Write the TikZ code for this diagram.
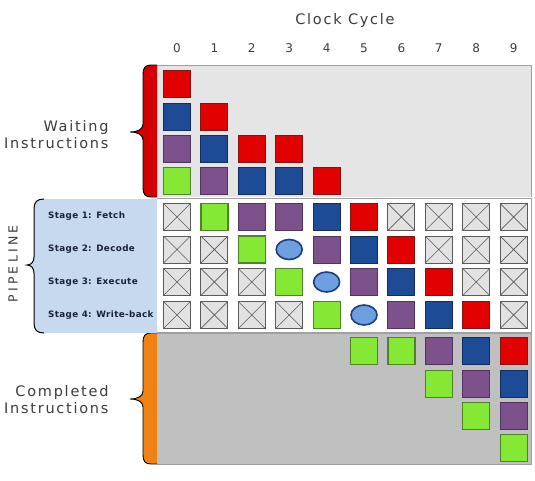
\documentclass[tikz,border=0pt]{standalone}
\usepackage{fontspec}
\setmainfont{DejaVu Sans}
\newfontfamily\lblfont[LetterSpace=12]{DejaVu Sans}
\newfontfamily\pipefont[LetterSpace=26]{DejaVu Sans}
\newfontfamily\stgfont[LetterSpace=4]{DejaVu Sans}
\usetikzlibrary{shapes.geometric}
\definecolor{cred}{RGB}{226,0,0}
\definecolor{credd}{RGB}{130,20,20}
\definecolor{cblue}{RGB}{30,75,150}
\definecolor{cblued}{RGB}{20,45,95}
\definecolor{cpurp}{RGB}{125,82,140}
\definecolor{cpurpd}{RGB}{80,52,92}
\definecolor{cgreen}{RGB}{132,232,52}
\definecolor{cgreend}{RGB}{80,130,40}
\definecolor{cxfill}{RGB}{226,226,226}
\definecolor{cxline}{RGB}{90,90,90}
\definecolor{cbub}{RGB}{110,160,225}
\definecolor{cbubd}{RGB}{30,60,130}
\definecolor{waitbg}{RGB}{229,229,229}
\definecolor{donebg}{RGB}{192,192,192}
\definecolor{pipebg}{RGB}{198,217,238}
\definecolor{braceorange}{RGB}{240,130,20}
\definecolor{bracered}{RGB}{212,0,0}
\definecolor{boxline}{RGB}{160,160,160}
\definecolor{txt}{RGB}{60,60,60}
\definecolor{stagetxt}{RGB}{25,35,60}
\tikzset{
  cell/.style={minimum size=27pt, inner sep=0pt, line width=1pt},
  cR/.style={cell, fill=cred, draw=credd},
  cB/.style={cell, fill=cblue, draw=cblued},
  cP/.style={cell, fill=cpurp, draw=cpurpd},
  cG/.style={cell, fill=cgreen, draw=cgreend, line width=1.2pt},
  cX/.style={cell, fill=cxfill, draw=cxline, line width=0.9pt,
    path picture={\draw[cxline, line width=0.6pt]
      (path picture bounding box.south west) -- (path picture bounding box.north east)
      (path picture bounding box.north west) -- (path picture bounding box.south east);}},
  cE/.style={ellipse, minimum width=26pt, minimum height=20pt, inner sep=0pt,
    fill=cbub, draw=cbubd, line width=1.6pt},
  lbl/.style={font=\lblfont\fontsize{14.5}{17}\selectfont, text=txt, align=right},
  stg/.style={font=\stgfont\bfseries\fontsize{8.8}{10}\selectfont, text=stagetxt, anchor=west, inner sep=0pt},
  num/.style={font=\fontsize{12}{14}\selectfont, text=txt},
  region/.style={draw=boxline, line width=0.8pt},
}
\begin{document}
\begin{tikzpicture}[x=1pt, y=-1pt]
\useasboundingbox (0,0) rectangle (535,480);
% regions
\fill[waitbg] (157,65) rectangle (531,197);
\draw[region] (157,65) -- (531,65) -- (531,197);
\fill[white] (157,198) rectangle (531,332);
\draw[region] (157,198) -- (531,198) -- (531,332) -- (157,332);
\fill[donebg] (157,333) rectangle (531,464);
\draw[region] (157,333) -- (531,333) -- (531,464) -- (157,464);
% waiting brace
\fill[bracered] (157,65) -- (151,65) .. controls (145,65) and (143,68) .. (143,74)
  -- (143,124) .. controls (143,129) and (138,132) .. (130,132)
  .. controls (138,132) and (143,135) .. (143,140)
  -- (143,188) .. controls (143,194) and (145,197) .. (151,197) -- (157,197) -- cycle;
\draw[black, line width=0.9pt] (157,65) -- (151,65) .. controls (145,65) and (143,68) .. (143,74)
  -- (143,124) .. controls (143,129) and (138,132) .. (130,132)
  .. controls (138,132) and (143,135) .. (143,140)
  -- (143,188) .. controls (143,194) and (145,197) .. (151,197) -- (157,197);
% completed brace
\fill[braceorange] (157,333) -- (151,333) .. controls (145,333) and (143,336) .. (143,342)
  -- (143,391) .. controls (143,396) and (138,399) .. (130,399)
  .. controls (138,399) and (143,402) .. (143,407)
  -- (143,455) .. controls (143,461) and (145,464) .. (151,464) -- (157,464) -- cycle;
\draw[black, line width=0.9pt] (157,333) -- (151,333) .. controls (145,333) and (143,336) .. (143,342)
  -- (143,391) .. controls (143,396) and (138,399) .. (130,399)
  .. controls (138,399) and (143,402) .. (143,407)
  -- (143,455) .. controls (143,461) and (145,464) .. (151,464) -- (157,464);
% pipeline label area and brace
\fill[pipebg] (157,199) -- (44,199) .. controls (37,199) and (34,202) .. (34,209)
  -- (34,257) .. controls (34,262) and (31,265) .. (27,265)
  .. controls (31,265) and (34,268) .. (34,273)
  -- (34,323) .. controls (34,330) and (37,333) .. (44,333) -- (157,333) -- cycle;
\draw[black, line width=1pt] (44,199) .. controls (37,199) and (34,202) .. (34,209)
  -- (34,257) .. controls (34,262) and (31,265) .. (27,265)
  .. controls (31,265) and (34,268) .. (34,273)
  -- (34,323) .. controls (34,330) and (37,333) .. (44,333);
% texts
\node[lbl] (clock) at (345,20) {Clock Cycle};
\foreach \c in {0,...,9} \node[num] (n\c) at ({177+37.4*\c},48) {\c};
\node[lbl, anchor=east] (wait) at (112,135) {Waiting\\Instructions};
\node[lbl, anchor=east] (done) at (112,400) {Completed\\Instructions};
\node[font=\pipefont\fontsize{12.5}{14}\selectfont, text=txt, rotate=90] (pipe) at (13,264) {PIPELINE};
\node[stg] (s1) at (48,216) {Stage 1: Fetch};
\node[stg] (s2) at (48,249) {Stage 2: Decode};
\node[stg] (s3) at (48,282) {Stage 3: Execute};
\node[stg] (s4) at (48,315) {Stage 4: Write-back};
% waiting cells
\node[cR] (w00) at (177,84) {};
\foreach \c/\s in {0/cB,1/cR} \node[\s] (w1\c) at ({177+37.4*\c},116.5) {};
\foreach \c/\s in {0/cP,1/cB,2/cR,3/cR} \node[\s] (w2\c) at ({177+37.4*\c},149) {};
\foreach \c/\s in {0/cG,1/cP,2/cB,3/cB,4/cR} \node[\s] (w3\c) at ({177+37.4*\c},181) {};
% pipeline cells
\foreach \c/\s in {0/cX,1/cG,2/cP,3/cP,4/cB,5/cR,6/cX,7/cX,8/cX,9/cX}
  \node[\s] (p0\c) at ({177+37.4*\c},217) {};
\foreach \c/\s in {0/cX,1/cX,2/cG,3/cE,4/cP,5/cB,6/cR,7/cX,8/cX,9/cX}
  \node[\s] (p1\c) at ({177+37.4*\c},249.5) {};
\foreach \c/\s in {0/cX,1/cX,2/cX,3/cG,4/cE,5/cP,6/cB,7/cR,8/cX,9/cX}
  \node[\s] (p2\c) at ({177+37.4*\c},282) {};
\foreach \c/\s in {0/cX,1/cX,2/cX,3/cX,4/cG,5/cE,6/cP,7/cB,8/cR,9/cX}
  \node[\s] (p3\c) at ({177+37.4*\c},315) {};
% completed cells
\foreach \c/\s in {5/cG,6/cG,7/cP,8/cB,9/cR} \node[\s] (d0\c) at ({177+37.4*\c},351) {};
\foreach \c/\s in {7/cG,8/cP,9/cB} \node[\s] (d1\c) at ({177+37.4*\c},384) {};
\foreach \c/\s in {8/cG,9/cP} \node[\s] (d2\c) at ({177+37.4*\c},416) {};
\node[cG] (d39) at ({177+37.4*9},448) {};
\end{tikzpicture}
\end{document}
